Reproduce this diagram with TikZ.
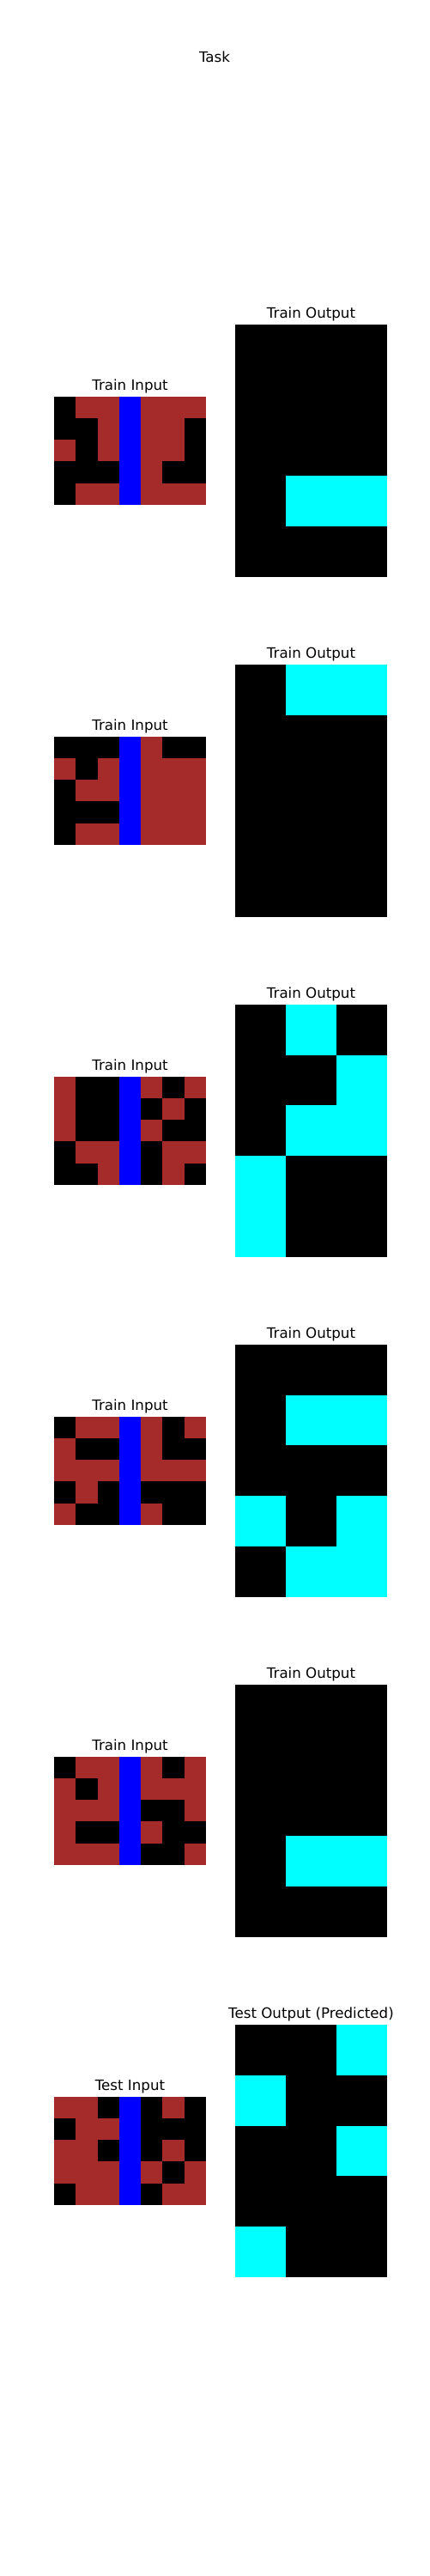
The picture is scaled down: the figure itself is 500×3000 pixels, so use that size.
\documentclass[tikz,border=0pt]{standalone}
\usepackage{fontspec}
\setmainfont{DejaVu Sans}
\definecolor{cK}{RGB}{0,0,0}
\definecolor{cR}{RGB}{165,42,42}
\definecolor{cB}{RGB}{0,0,255}
\definecolor{cC}{RGB}{0,255,255}
\newcommand\drawgrid[5]{%
  \foreach \rowlist [count=\ri from 0] in {#5} {
    \foreach \cc [count=\ci from 0] in \rowlist {
      \fill[c\cc] ({#1+\ci*#3},{#2+\ri*#4}) rectangle ++({#3+0.4},{#4+0.4});
    }
  }
}
\tikzset{ttl/.style={anchor=base, inner sep=0pt, font=\fontsize{12pt}{14pt}\selectfont}}
\begin{document}
\begin{tikzpicture}[x=0.72pt,y=-0.72pt]
\useasboundingbox[fill=white] (0,0) rectangle (500,3000);
\node[ttl] (task) at (250,73) {Task};
% panel 1
\node[ttl] (in1t) at (151.5,454) {Train Input};
\node[ttl] (out1t) at (362.5,370) {Train Output};
\drawgrid{63}{462}{25.286}{25.14}{{K,R,R,B,R,R,R},{K,K,R,B,R,R,K},{R,K,R,B,R,R,K},{K,K,K,B,R,K,K},{K,R,R,B,R,R,R}}
\drawgrid{274}{378}{59}{58.74}{{K,K,K},{K,K,K},{K,K,K},{K,C,C},{K,K,K}}
% panel 2
\node[ttl] (in2t) at (151.5,850) {Train Input};
\node[ttl] (out2t) at (362.5,766) {Train Output};
\drawgrid{63}{858}{25.286}{25.14}{{K,K,K,B,R,K,K},{R,K,R,B,R,R,R},{K,R,R,B,R,R,R},{K,K,K,B,R,R,R},{K,R,R,B,R,R,R}}
\drawgrid{274}{774}{59}{58.74}{{K,C,C},{K,K,K},{K,K,K},{K,K,K},{K,K,K}}
% panel 3
\node[ttl] (in3t) at (151.5,1246) {Train Input};
\node[ttl] (out3t) at (362.5,1162) {Train Output};
\drawgrid{63}{1254}{25.286}{25.14}{{R,K,K,B,R,K,R},{R,K,K,B,K,R,K},{R,K,K,B,R,K,K},{K,R,R,B,K,R,R},{K,K,R,B,K,R,K}}
\drawgrid{274}{1170}{59}{58.74}{{K,C,K},{K,K,C},{K,C,C},{C,K,K},{C,K,K}}
% panel 4
\node[ttl] (in4t) at (151.5,1642) {Train Input};
\node[ttl] (out4t) at (362.5,1558) {Train Output};
\drawgrid{63}{1650}{25.286}{25.14}{{K,R,R,B,R,K,R},{R,K,K,B,R,K,K},{R,R,R,B,R,R,R},{K,R,K,B,K,K,K},{R,K,K,B,R,K,K}}
\drawgrid{274}{1566}{59}{58.74}{{K,K,K},{K,C,C},{K,K,K},{C,K,C},{K,C,C}}
% panel 5
\node[ttl] (in5t) at (151.5,2038) {Train Input};
\node[ttl] (out5t) at (362.5,1954) {Train Output};
\drawgrid{63}{2046}{25.286}{25.14}{{K,R,R,B,R,K,R},{R,K,R,B,R,R,R},{R,R,R,B,K,K,R},{R,K,K,B,R,K,K},{R,R,R,B,K,K,R}}
\drawgrid{274}{1962}{59}{58.74}{{K,K,K},{K,K,K},{K,K,K},{K,C,C},{K,K,K}}
% test
\node[ttl] (in6t) at (151.5,2434) {Test Input};
\node[ttl] (out6t) at (362.5,2350) {Test Output (Predicted)};
\drawgrid{63}{2442}{25.286}{25.14}{{R,R,K,B,K,R,K},{K,R,R,B,K,K,K},{R,R,K,B,K,R,K},{R,R,R,B,R,K,R},{K,R,R,B,K,R,R}}
\drawgrid{274}{2358}{59}{58.74}{{K,K,C},{C,K,K},{K,K,C},{K,K,K},{C,K,K}}
\end{tikzpicture}
\end{document}
